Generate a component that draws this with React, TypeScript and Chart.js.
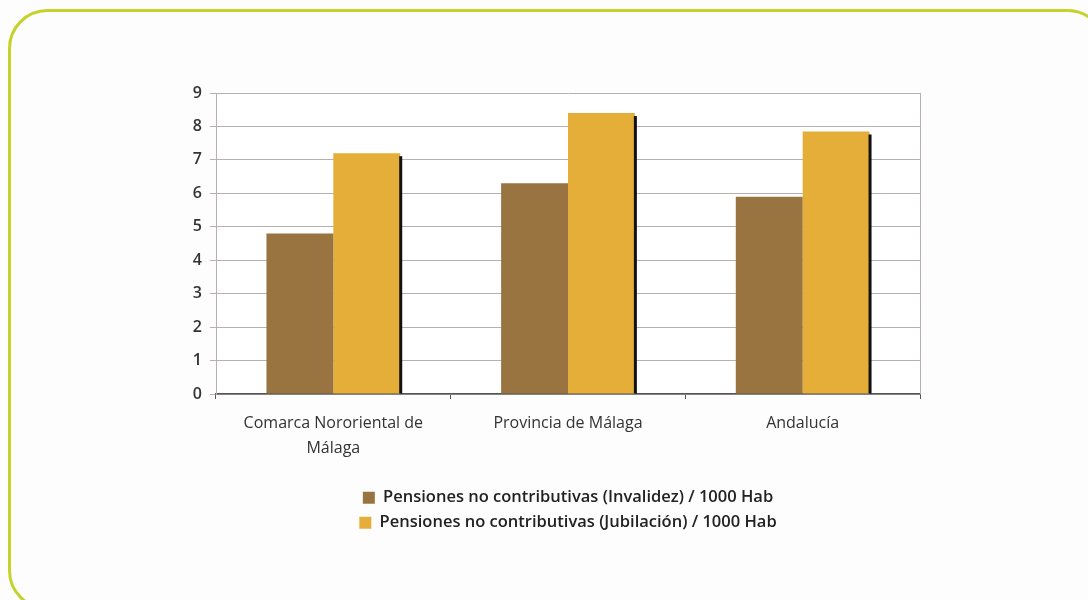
import React, { useEffect, useRef } from "react";
import { Chart, registerables } from "chart.js";

Chart.register(...registerables);

const categories: (string | string[])[] = [
  ["Comarca Nororiental de", "Málaga"],
  "Provincia de Málaga",
  "Andalucía",
];
const seriesNames = [
  "Pensiones no contributivas (Invalidez) / 1000 Hab",
  "Pensiones no contributivas (Jubilación) / 1000 Hab",
];
const invalidez = [4.8, 6.3, 5.9];
const jubilacion = [7.2, 8.4, 7.85];
const yTicks = [0, 1, 2, 3, 4, 5, 6, 7, 8, 9];

const FONT = "'Open Sans', 'Noto Sans', sans-serif";

const framePlugin = {
  id: "frame",
  beforeDraw(chart: any) {
    const ctx = chart.ctx;
    ctx.save();
    ctx.fillStyle = "#fdfdfd";
    ctx.fillRect(0, 0, chart.width, chart.height);
    ctx.strokeStyle = "#c3d32a";
    ctx.lineWidth = 3;
    ctx.beginPath();
    ctx.roundRect(9.5, 10.5, 1096, 598, 38);
    ctx.stroke();
    const a = chart.chartArea;
    ctx.fillStyle = "#ffffff";
    ctx.fillRect(a.left, a.top, a.right - a.left, a.bottom - a.top);
    ctx.restore();
  },
  afterDatasetsDraw(chart: any) {
    const ctx = chart.ctx;
    const a = chart.chartArea;
    ctx.save();
    // right border of plot area
    ctx.strokeStyle = "#b8b0b0";
    ctx.lineWidth = 1;
    ctx.beginPath();
    ctx.moveTo(Math.round(a.right) + 0.5, a.top);
    ctx.lineTo(Math.round(a.right) + 0.5, a.bottom);
    ctx.stroke();
    // dark shadow on the right edge of the second series bars
    const meta = chart.getDatasetMeta(1);
    ctx.fillStyle = "#111111";
    meta.data.forEach((bar: any) => {
      const right = bar.x + bar.width / 2;
      ctx.fillRect(right - 1, bar.y + 3, 3, bar.base - bar.y - 3);
    });
    ctx.restore();
  },
};

export default function App() {
  const ref = useRef<HTMLCanvasElement>(null);
  useEffect(() => {
    if (!ref.current) return;
    const chart = new Chart(ref.current, {
      type: "bar",
      data: {
        labels: categories,
        datasets: [
          {
            label: seriesNames[0],
            data: invalidez,
            backgroundColor: "#9a7440",
            borderWidth: 0,
          },
          {
            label: seriesNames[1],
            data: jubilacion,
            backgroundColor: "#e4ae38",
            borderWidth: 0,
          },
        ],
      },
      plugins: [framePlugin],
      options: {
        responsive: false,
        animation: false,
        layout: { padding: { left: 160, right: 168, top: 93, bottom: 59 } },
        datasets: {
          bar: { categoryPercentage: 0.57, barPercentage: 1 },
        },
        scales: {
          x: {
            grid: {
              drawOnChartArea: false,
              drawTicks: true,
              tickLength: 5,
              color: "#555555",
              offset: true,
            },
            border: { display: true, color: "#555555", width: 1.5 },
            ticks: {
              color: "#333333",
              padding: 12,
              font: { family: FONT, size: 16, lineHeight: 1.5625 },
            },
            afterFit(scale: any) {
              scale.height = 87;
            },
          },
          y: {
            min: 0,
            max: 9,
            afterBuildTicks(scale: any) {
              scale.ticks = yTicks.map((v) => ({ value: v }));
            },
            grid: {
              color: "#b8b0b0",
              tickLength: 6,
              drawTicks: true,
            },
            border: { display: true, color: "#b8b0b0" },
            ticks: {
              color: "#333333",
              padding: 8,
              font: { family: FONT, size: 16, weight: 600 },
            },
            afterFit(scale: any) {
              scale.width = 56;
            },
          },
        },
        plugins: {
          legend: {
            position: "bottom",
            fullSize: false,
            labels: {
              boxWidth: 12,
              boxHeight: 12,
              padding: 8.5,
              color: "#222222",
              font: { family: FONT, size: 16.5, weight: 600 },
            },
          },
          tooltip: { enabled: false },
        },
      },
    });
    return () => chart.destroy();
  }, []);
  return (
    <div style={{ position: "absolute", left: 0, top: 0, width: 1088, height: 600 }}>
      <canvas ref={ref} width={1088} height={600} />
    </div>
  );
}
